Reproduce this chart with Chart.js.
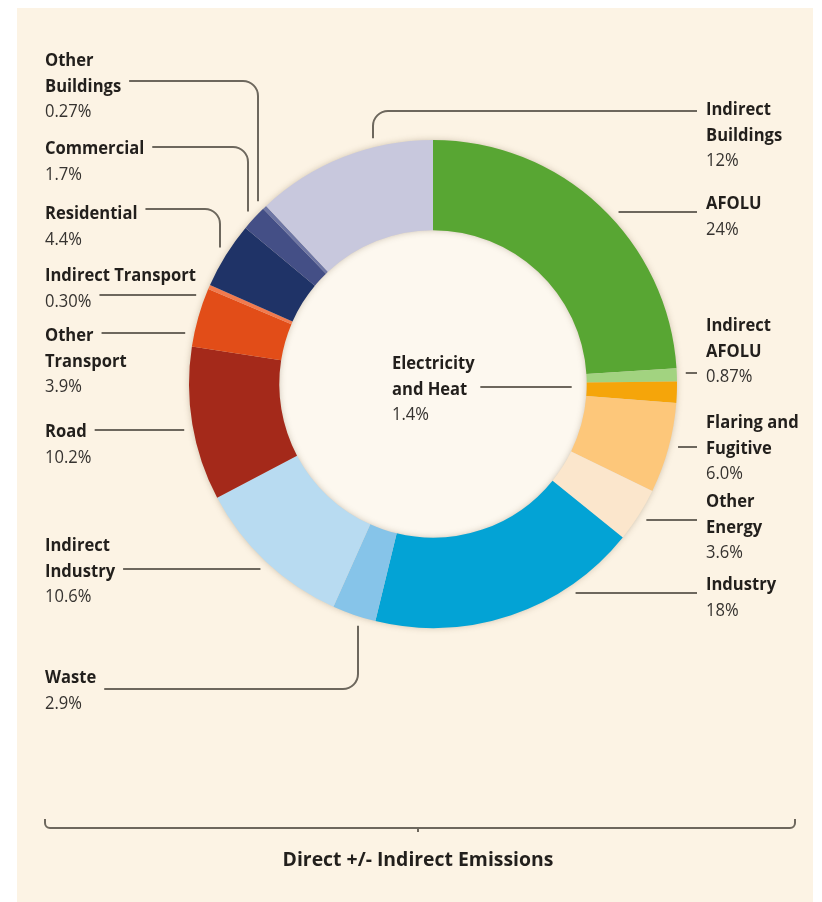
<!DOCTYPE html>
<html>
<head>
<meta charset="utf-8">
<script src="https://cdn.jsdelivr.net/npm/chart.js@4/dist/chart.umd.min.js"></script>
<style>
  html, body { margin: 0; padding: 0; background: #ffffff; }
  #wrap { width: 822px; height: 902px; }
</style>
</head>
<body>
<div id="wrap"><canvas id="c" width="822" height="902"></canvas></div>
<script>
// Sectors, clockwise from 12 o'clock
const categories = [
  'AFOLU', 'Indirect AFOLU', 'Electricity and Heat', 'Flaring and Fugitive',
  'Other Energy', 'Industry', 'Waste', 'Indirect Industry', 'Road',
  'Other Transport', 'Indirect Transport', 'Residential', 'Commercial',
  'Other Buildings', 'Indirect Buildings'
];
// Share of emissions (%)
const shares = [24, 0.87, 1.4, 6.0, 3.6, 18, 2.9, 10.6, 10.2, 3.9, 0.30, 4.4, 1.7, 0.27, 12];
// Decimal places used when printing each share
const shareDigits = [0, 2, 1, 1, 1, 0, 1, 1, 1, 1, 2, 1, 1, 2, 0];
// How each category name is broken across lines
const nameLines = [
  ['AFOLU'], ['Indirect', 'AFOLU'], ['Electricity', 'and Heat'], ['Flaring and', 'Fugitive'],
  ['Other', 'Energy'], ['Industry'], ['Waste'], ['Indirect', 'Industry'], ['Road'],
  ['Other', 'Transport'], ['Indirect Transport'], ['Residential'], ['Commercial'],
  ['Other', 'Buildings'], ['Indirect', 'Buildings']
];
const axisTitle = 'Direct +/- Indirect Emissions';

// Segment colours
const sliceColors = [
  '#58a633', '#a2d380', '#f5a50a', '#fdc77a', '#fbe6cc', '#03a3d5', '#86c4e9',
  '#b8dbf1', '#a4291a', '#e24d18', '#f27a4e', '#1f3367', '#444f86', '#6e76a4', '#c8c8dd'
];

// Label placement: text origin (first baseline), leader height, optional hook column
const labelLayout = [
  { x: 706, y: 209, lineY: 212 },
  { x: 706, y: 331, lineY: 373 },
  { x: 392, y: 369, lineY: 387, inner: true },
  { x: 706, y: 428, lineY: 447 },
  { x: 706, y: 507, lineY: 520 },
  { x: 706, y: 590, lineY: 593 },
  { x: 45,  y: 683, lineY: 689, hookX: 358 },
  { x: 45,  y: 551, lineY: 569 },
  { x: 45,  y: 437, lineY: 430 },
  { x: 45,  y: 341, lineY: 333 },
  { x: 45,  y: 281, lineY: 295 },
  { x: 45,  y: 219, lineY: 209, hookX: 220 },
  { x: 45,  y: 154, lineY: 147, hookX: 248 },
  { x: 45,  y: 66,  lineY: 81,  hookX: 258 },
  { x: 706, y: 115, lineY: 111, hookX: 373 }
];

const LINE_H = 25.5;
const FONT_SIZE = 18;
const SX = 0.92;           // horizontal condensing of the label type
const NAME_FONT = `bold ${FONT_SIZE}px "Open Sans", "Noto Sans", sans-serif`;
const VALUE_FONT = `${FONT_SIZE}px "Open Sans", "Noto Sans", sans-serif`;
const TITLE_FONT = `bold 20px "Open Sans", "Noto Sans", sans-serif`;
const INK = '#221f1c';
const VALUE_INK = '#363330';
const LEADER = '#6d675d';
const PANEL = '#fcf3e4';

function textWidth(ctx, font, t, sx) {
  ctx.font = font;
  return ctx.measureText(t).width * (sx || SX);
}
function drawText(ctx, font, color, t, x, y, align, sx) {
  ctx.save();
  ctx.font = font;
  ctx.fillStyle = color;
  ctx.textBaseline = 'alphabetic';
  ctx.textAlign = align || 'left';
  ctx.translate(x, y);
  ctx.scale(sx || SX, 1);
  ctx.fillText(t, 0, 0);
  ctx.restore();
}

const panelPlugin = {
  id: 'panel',
  beforeDraw(chart) {
    const ctx = chart.ctx;
    ctx.save();
    ctx.fillStyle = '#ffffff';
    ctx.fillRect(0, 0, chart.width, chart.height);
    ctx.fillStyle = PANEL;
    ctx.fillRect(17, 8, 796, 894);
    ctx.restore();
  },
  beforeDatasetsDraw(chart) {
    const arc = chart.getDatasetMeta(0).data[0];
    if (!arc) return;
    const ctx = chart.ctx;
    const { x, y, outerRadius, innerRadius } = arc;
    ctx.save();
    // lighter hole
    ctx.fillStyle = '#fdf8ef';
    ctx.beginPath();
    ctx.arc(x, y, innerRadius, 0, Math.PI * 2);
    ctx.fill();
    // soft halo around the ring
    ctx.shadowColor = 'rgba(80,60,30,0.35)';
    ctx.shadowBlur = 7;
    ctx.fillStyle = '#d8d0c4';
    ctx.beginPath();
    ctx.arc(x, y, outerRadius - 1, 0, Math.PI * 2);
    ctx.arc(x, y, innerRadius + 1, 0, Math.PI * 2, true);
    ctx.fill('evenodd');
    ctx.restore();
  }
};

const labelPlugin = {
  id: 'sliceLabels',
  afterDatasetsDraw(chart) {
    const ctx = chart.ctx;
    const meta = chart.getDatasetMeta(0);
    const arc0 = meta.data[0];
    const cx = arc0.x, cy = arc0.y;
    const R = arc0.outerRadius + 9;     // leaders stop just outside the ring
    const Ri = arc0.innerRadius - 15;   // ... or just inside the hole

    ctx.save();
    ctx.strokeStyle = LEADER;
    ctx.lineWidth = 2;
    ctx.lineCap = 'butt';

    categories.forEach((cat, i) => {
      const L = labelLayout[i];
      const rows = nameLines[i].map(t => ({ t, font: NAME_FONT, color: INK }));
      rows.push({ t: shares[i].toFixed(shareDigits[i]) + '%', font: VALUE_FONT, color: VALUE_INK });
      rows.forEach((r, k) => drawText(ctx, r.font, r.color, r.t, L.x, L.y + k * LINE_H));

      // text row the leader sits beside
      let near = 0, best = 1e9;
      rows.forEach((r, k) => {
        const d = Math.abs(L.y + k * LINE_H - (L.lineY + 5));
        if (d < best) { best = d; near = k; }
      });
      const rowW = textWidth(ctx, rows[near].font, rows[near].t);
      const onLeft = L.x < cx && !L.inner;
      const dy = L.lineY - cy;

      ctx.beginPath();
      if (L.inner) {
        const x0 = L.x + rowW + 13;
        const x1 = cx + Math.sqrt(Ri * Ri - dy * dy);
        ctx.moveTo(x0, L.lineY);
        ctx.lineTo(x1, L.lineY);
      } else if (L.hookX !== undefined) {
        const dx = L.hookX - cx;
        const reach = Math.sqrt(R * R - dx * dx);
        const yEnd = L.lineY < cy ? cy - reach : cy + reach;
        const x0 = onLeft ? L.x + rowW + 8 : L.x - 9;
        ctx.moveTo(x0, L.lineY);
        ctx.arcTo(L.hookX, L.lineY, L.hookX, yEnd, 15);
        ctx.lineTo(L.hookX, yEnd);
      } else {
        const reach = Math.sqrt(R * R - dy * dy);
        if (onLeft) {
          ctx.moveTo(L.x + rowW + 8, L.lineY);
          ctx.lineTo(cx - reach, L.lineY);
        } else {
          ctx.moveTo(L.x - 9, L.lineY);
          ctx.lineTo(cx + reach, L.lineY);
        }
      }
      ctx.stroke();
    });

    // bracket spanning the figure, with its caption
    const bx0 = 45, bx1 = 795, by = 828, mid = 418;
    ctx.beginPath();
    ctx.moveTo(bx0, by - 9);
    ctx.arcTo(bx0, by, bx0 + 8, by, 5);
    ctx.lineTo(bx1 - 8, by);
    ctx.arcTo(bx1, by, bx1, by - 9, 5);
    ctx.lineTo(bx1, by - 9);
    ctx.moveTo(mid, by);
    ctx.lineTo(mid, by + 4);
    ctx.stroke();
    drawText(ctx, TITLE_FONT, INK, axisTitle, mid, 866, 'center', 0.97);
    ctx.restore();
  }
};

new Chart(document.getElementById('c'), {
  type: 'doughnut',
  data: {
    labels: categories,
    datasets: [{
      data: shares,
      backgroundColor: sliceColors,
      borderWidth: 0,
      hoverOffset: 0
    }]
  },
  options: {
    responsive: false,
    animation: false,
    devicePixelRatio: 1,
    cutout: '63%',
    layout: { padding: { left: 189, top: 140, right: 145, bottom: 274 } },
    plugins: {
      legend: { display: false },
      tooltip: { enabled: false },
      title: { display: false }
    }
  },
  plugins: [panelPlugin, labelPlugin]
});
</script>
</body>
</html>
